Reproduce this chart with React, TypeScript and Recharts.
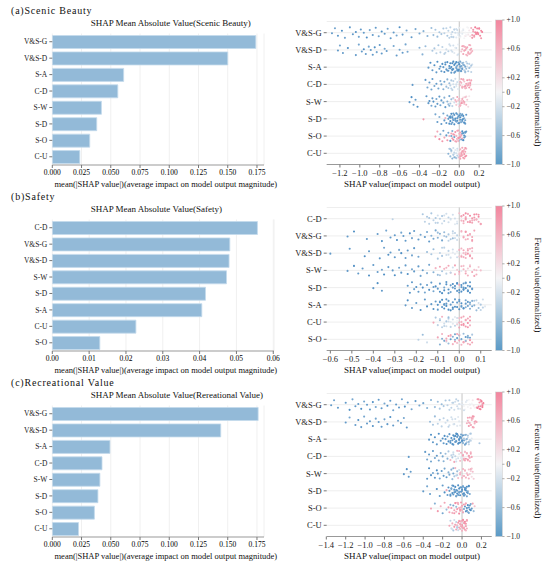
import React from "react";
import {
  BarChart,
  Bar,
  XAxis,
  YAxis,
  CartesianGrid,
  ScatterChart,
  Scatter,
  ReferenceLine,
} from "recharts";

const FONT = '"Liberation Serif", "Times New Roman", serif';

// feature order per panel (top to bottom)
const FEATURES_A = ["V&S-G", "V&S-D", "S-A", "C-D", "S-W", "S-D", "S-O", "C-U"];
const FEATURES_B = ["C-D", "V&S-G", "V&S-D", "S-W", "S-D", "S-A", "C-U", "S-O"];
const FEATURES_C = ["V&S-G", "V&S-D", "S-A", "C-D", "S-W", "S-D", "S-O", "C-U"];

// mean |SHAP|
const MEAN_A = [0.174, 0.15, 0.061, 0.056, 0.042, 0.038, 0.032, 0.0235];
const MEAN_B = [0.0557, 0.0482, 0.048, 0.0473, 0.0416, 0.0406, 0.0227, 0.0129];
const MEAN_C = [0.176, 0.144, 0.0493, 0.0425, 0.0407, 0.039, 0.036, 0.0224];

const MEAN_TICKS_AC = [0, 0.025, 0.05, 0.075, 0.1, 0.125, 0.15, 0.175];
const MEAN_TICKS_B = [0, 0.01, 0.02, 0.03, 0.04, 0.05, 0.06];

const SHAP_TICKS_A = [-1.2, -1.0, -0.8, -0.6, -0.4, -0.2, 0, 0.2];
const SHAP_TICKS_B = [-0.6, -0.5, -0.4, -0.3, -0.2, -0.1, 0, 0.1];
const SHAP_TICKS_C = [-1.4, -1.2, -1.0, -0.8, -0.6, -0.4, -0.2, 0, 0.2];

const CBAR_TICKS = [1, 0.6, 0.2, 0, -0.2, -0.6, -1];

// vertical spread inside a row, cycled over points
const JITTER = [
  0.03, -0.26, 0.18, -0.11, 0.3, -0.31, 0.09, -0.04, 0.24, -0.19, 0.0, 0.28, -0.15,
  0.13, -0.29, 0.21, -0.07, 0.06, -0.23, 0.32, -0.01, 0.16, -0.32, 0.11, -0.13, 0.26,
  -0.21, 0.05, -0.09, 0.19, -0.27, 0.14, -0.17, 0.23, -0.03, 0.08, -0.24,
];

// SHAP points per row: [shap*100, feature value*10]
const SHAP_A: number[][][] = [
  [
    [-128, -8], [-125, -7], [-122, -8], [-118, -9], [-115, -7], [-110, -8], [-107, -8], [-104, -9],
    [-101, -7], [-99, -8], [-96, -8], [-93, -9], [-90, -7], [-87, -8], [-84, -8], [-81, -7],
    [-78, -9], [-75, -8], [-72, -7], [-69, -8], [-66, -8], [-63, -7], [-60, -9], [-57, -8],
    [-53, -7], [-48, -8], [-44, -7], [-40, -7], [-36, -6], [-32, -6], [-28, -5], [-26, -5],
    [-24, -4], [-22, -5], [-20, -4], [-18, -4], [-16, -4], [-15, -3], [-13, -3], [-12, -4],
    [-11, -3], [-10, -3], [-9, -3], [-8, -2], [-7, -3], [-6, -2], [-5, -2], [-4, -2], [-3, -1],
    [-2, -2], [-1, -1], [0, -1], [1, -1], [2, 0], [3, -1], [4, 0], [5, 0], [6, 0], [7, 1],
    [8, 0], [9, 1], [10, 1], [-6, -3], [-3, -2], [0, -2], [3, 0], [6, 1], [12, 5], [13, 6],
    [14, 7], [15, 6], [16, 8], [17, 7], [18, 8], [19, 7], [20, 9], [21, 8], [22, 8], [13, 7],
    [16, 9], [19, 8], [23, 9], [-8, -3], [-5, -3], [-2, -1], [1, 0], [4, -1], [7, 0], [9, 0],
    [11, 2], [14, 6], [17, 8], [20, 8], [22, 7], [18, 9], [15, 7],
  ],
  [
    [-122, -8], [-120, -7], [-117, -8], [-112, -9], [-104, -8], [-101, -7], [-98, -8], [-96, -9],
    [-94, -8], [-91, -7], [-89, -8], [-87, -8], [-85, -9], [-83, -7], [-80, -8], [-78, -8],
    [-75, -7], [-73, -8], [-66, -7], [-63, -8], [-60, -7], [-57, -8], [-54, -7], [-52, -7],
    [-40, -6], [-37, -6], [-34, -5], [-27, -4], [-25, -4], [-23, -3], [-21, -4], [-19, -3],
    [-17, -3], [-15, -3], [-13, -2], [-11, -3], [-9, -2], [-8, -2], [-6, -2], [-5, -1], [-3, -2],
    [-2, -1], [-1, -1], [2, 4], [3, 5], [4, 6], [5, 5], [6, 6], [7, 5], [8, 6], [9, 5], [10, 6],
    [11, 5], [12, 6], [13, 5], [4, 5], [8, 5], [11, 6], [-14, -3], [-10, -2], [-7, -2], [-4, -1],
    [-1, -2], [3, 6], [5, 6], [7, 6], [9, 6], [11, 5], [12, 5], [6, 5], [10, 5],
  ],
  [
    [-31, -8], [-29, -9], [-27, -8], [-25, -9], [-23, -8], [-22, -9], [-20, -8], [-19, -9],
    [-18, -8], [-17, -9], [-16, -8], [-15, -9], [-14, -9], [-13, -8], [-12, -9], [-11, -8],
    [-10, -9], [-10, -8], [-9, -9], [-8, -8], [-8, -9], [-7, -8], [-6, -9], [-6, -8], [-5, -9],
    [-4, -8], [-4, -9], [-3, -8], [-2, -7], [-2, -9], [-1, -8], [0, -7], [0, -8], [1, -6],
    [1, -8], [2, -5], [3, -6], [3, -4], [4, -5], [5, -3], [5, -6], [6, -4], [7, -3], [7, -5],
    [8, -2], [9, -4], [10, -3], [11, -2], [12, -3], [13, -2], [-7, -9], [-3, -9], [-1, -9], [2, -7],
    [-9, -8], [-7, -9], [-5, -8], [-3, -7], [-1, -9], [1, -7], [3, -8], [4, -6], [6, -5], [8, -4],
    [10, -5], [12, -4], [-12, -8], [-14, -8], [-2, -8], [0, -9], [2, -8], [6, -7],
  ],
  [
    [-47, -8], [-34, -8], [-32, -7], [-30, -8], [-28, -7], [-27, -8], [-25, -7], [-23, -8],
    [-21, -7], [-19, -6], [-18, -7], [-16, -6], [-15, -7], [-13, -5], [-12, -6], [-11, -4],
    [-10, -5], [-9, -3], [-8, -4], [-7, -3], [-6, -2], [-5, -3], [-4, -2], [-3, -1], [-2, -2],
    [-1, -1], [0, -1], [1, 4], [2, 5], [3, 6], [4, 5], [5, 6], [5, 4], [6, 5], [7, 6], [8, 5],
    [8, 7], [9, 6], [10, 5], [10, 7], [11, 6], [12, 5], [2, 6], [6, 7], [11, 7], [-8, -3],
    [-6, -3], [-3, -2], [-1, -1], [1, 5], [3, 5], [4, 6], [7, 5], [9, 5], [11, 5], [12, 6],
  ],
  [
    [-50, -8], [-48, -9], [-46, -8], [-44, -8], [-42, -9], [-33, -8], [-31, -8], [-30, -9],
    [-28, -7], [-27, -8], [-26, -9], [-24, -8], [-23, -7], [-22, -8], [-20, -8], [-19, -7],
    [-18, -8], [-16, -7], [-15, -6], [-14, -8], [-12, -6], [-11, -5], [-10, -7], [-9, -4],
    [-8, -5], [-7, -3], [-6, 4], [-5, -2], [-4, 5], [-3, 3], [-2, 6], [-1, -1], [0, 5], [1, 6],
    [2, 4], [3, 5], [4, 2], [5, 6], [6, 4], [7, 5], [8, 3], [9, 2], [10, 1], [2, 7], [4, 6],
    [-10, -6], [-6, -3], [-3, 5], [0, 4], [3, 6], [5, 4], [7, 3], [1, 5], [-1, 4],
  ],
  [
    [-36, 7], [-24, -7], [-22, -8], [-20, -6], [-18, -8], [-16, -7], [-15, -8], [-14, 5],
    [-13, -8], [-12, -7], [-11, -8], [-10, -9], [-9, -8], [-9, -9], [-8, -9], [-7, -8], [-7, -9],
    [-6, -9], [-5, -8], [-5, -9], [-4, -9], [-3, -8], [-3, -9], [-2, -9], [-1, -8], [-1, -9],
    [0, -9], [1, -8], [1, -9], [2, -9], [3, -8], [3, -7], [4, -9], [5, -8], [5, -6], [6, -7],
    [7, -8], [-6, -7], [-2, -7], [2, -6], [-10, -8], [-8, -8], [-6, -8], [-4, -8], [-2, -8],
    [0, -8], [2, -8], [4, -8], [6, -8], [-7, -7], [-3, -7], [1, -7], [5, -9], [-9, -9], [3, -9],
  ],
  [
    [-24, 7], [-22, 6], [-20, 8], [-19, -6], [-17, 7], [-16, -7], [-15, 6], [-13, -8], [-12, 7],
    [-11, -7], [-10, 5], [-9, -8], [-8, 6], [-7, 7], [-7, -6], [-6, 8], [-5, 6], [-5, -7],
    [-4, 7], [-3, 6], [-3, 5], [-2, 7], [-1, 6], [-1, 8], [0, 5], [0, -5], [1, 6], [1, 7],
    [2, 5], [2, -8], [3, -9], [3, 6], [4, -8], [4, -7], [5, -9], [5, -8], [6, -9], [6, -7],
    [7, -8], [-2, 4], [-6, 7], [-4, 6], [-2, 6], [0, 7], [2, 6], [4, -9], [6, -8], [-8, -7],
    [-1, 5], [3, -8],
  ],
  [
    [-11, -6], [-10, -4], [-9, -5], [-8, -3], [-7, -6], [-6, -2], [-6, -4], [-5, -3], [-4, -5],
    [-4, -1], [-3, -2], [-3, -4], [-2, -1], [-2, -3], [-1, 0], [-1, -2], [0, 1], [0, 4], [1, 5],
    [1, 6], [2, 7], [2, 5], [3, 6], [3, 8], [4, 6], [4, 7], [5, 5], [5, 7], [6, 6], [6, 8],
    [7, 5], [7, 7], [-8, -5], [-5, -6], [1, 3], [3, 4], [-9, -4], [-5, -2], [-2, -2], [1, 6],
    [3, 7], [5, 6], [6, 7], [2, 6], [4, 5], [0, 5],
  ],
];

const SHAP_B: number[][][] = [
  [
    [-31, -3], [-17, -4], [-16, -3], [-15, -4], [-14, -3], [-13, -4], [-12, -3], [-11, -4],
    [-10, -3], [-10, -2], [-9, -3], [-8, -2], [-8, -4], [-7, -3], [-6, -2], [-5, -2], [-5, -3],
    [-4, -1], [-3, -2], [-2, -1], [-2, -2], [-1, -1], [0, 4], [1, 5], [1, 6], [2, 5], [2, 7],
    [3, 6], [3, 5], [4, 7], [4, 6], [5, 5], [5, 8], [6, 6], [6, 7], [7, 5], [7, 8], [8, 6],
    [8, 7], [9, 6], [9, 8], [10, 7], [3, 8], [6, 5], [-14, -4], [-11, -3], [-7, -2], [-4, -2],
    [-1, -2], [1, 6], [2, 6], [4, 5], [5, 7], [7, 7], [8, 5], [9, 7], [10, 6], [3, 7],
  ],
  [
    [-52, -8], [-49, -9], [-43, -8], [-38, -8], [-36, -9], [-34, -7], [-32, -8], [-30, -8],
    [-29, -9], [-27, -7], [-26, -8], [-25, -8], [-23, -9], [-22, -7], [-21, -8], [-19, -8],
    [-18, -7], [-16, -8], [-15, -7], [-14, -8], [-13, -6], [-12, -7], [-11, -7], [-10, -6],
    [-9, -6], [-8, -7], [-7, -5], [-6, -5], [-5, -4], [-4, -4], [-3, -3], [-3, -5], [-2, -3],
    [-1, -2], [-1, -3], [0, -1], [1, 4], [2, 5], [3, 6], [4, 5], [5, 6], [6, 5], [7, 6], [2, 6],
    [4, 7], [6, 7], [-10, -5], [-7, -4], [-5, -3], [-3, -2], [-2, -2], [1, 5], [3, 5], [5, 5],
    [6, 6], [3, 7],
  ],
  [
    [-60, -8], [-51, -8], [-44, -9], [-42, -8], [-37, -8], [-35, -7], [-33, -9], [-32, -8],
    [-30, -8], [-28, -7], [-27, -9], [-25, -8], [-24, -8], [-22, -7], [-21, -8], [-19, -7],
    [-15, -5], [-13, -4], [-12, -5], [-10, -4], [-9, -3], [-8, -4], [-7, -3], [-6, -2], [-5, -3],
    [-4, -2], [-3, -2], [-2, -1], [-1, -1], [0, 3], [1, 5], [1, 4], [2, 6], [2, 5], [3, 4],
    [3, 6], [4, 5], [4, 7], [5, 5], [5, 6], [6, 4], [6, 6], [-8, -3], [-5, -2], [-3, -1],
    [-1, -2], [0, 5], [2, 4], [3, 5], [4, 6], [5, 7], [6, 5], [1, 6],
  ],
  [
    [-52, -8], [-49, -9], [-47, -8], [-45, -8], [-42, -9], [-40, -8], [-38, -8], [-36, -7],
    [-35, -9], [-33, -8], [-31, -8], [-30, -9], [-28, -7], [-27, -8], [-25, -8], [-24, -9],
    [-22, -7], [-21, -8], [-19, -8], [-18, -7], [-17, -8], [-15, -6], [-14, -7], [-12, -6],
    [-11, 5], [-10, -5], [-9, 6], [-8, -4], [-7, 5], [-6, -3], [-5, 6], [-4, 4], [-3, -2],
    [-2, 5], [-1, 3], [0, 6], [1, 5], [1, -1], [2, 4], [3, 6], [4, 3], [4, 5], [5, 2], [6, 6],
    [7, 4], [8, 5], [9, 3], [10, 4], [-9, -4], [-6, 5], [-4, -3], [-2, 6], [0, 4], [2, 5],
    [3, 4], [5, 5], [7, 6], [8, 4],
  ],
  [
    [-40, -8], [-38, -9], [-36, -8], [-24, -8], [-23, -9], [-22, -8], [-21, -7], [-20, -9],
    [-19, -8], [-18, -8], [-17, -9], [-16, -7], [-15, -8], [-14, -9], [-13, -8], [-12, -7],
    [-11, -9], [-10, -8], [-9, -8], [-8, -9], [-7, -7], [-7, -9], [-6, -8], [-5, -9], [-4, -8],
    [-4, -7], [-3, -9], [-2, -8], [-2, -9], [-1, -8], [-1, -9], [0, -9], [0, 6], [1, -9],
    [1, -8], [2, -9], [2, -8], [3, -9], [3, -7], [4, -9], [4, -8], [5, -9], [5, -8], [6, -7],
    [-12, -8], [-9, -9], [-6, -9], [-3, -8], [0, -8], [1, -9], [2, -9], [3, -8], [4, -9],
    [5, -9], [6, -8], [-1, -9], [-5, -8], [2, -8], [4, -8],
  ],
  [
    [-25, -8], [-24, -9], [-22, -8], [-20, -8], [-18, -9], [-16, -8], [-15, -9], [-13, -8],
    [-12, -9], [-11, -8], [-10, -9], [-10, -8], [-9, -9], [-8, -8], [-8, -9], [-7, -9], [-6, -8],
    [-6, -9], [-5, -8], [-4, -9], [-4, -8], [-3, -9], [-2, -8], [-2, -9], [-1, -8], [0, -9],
    [0, -8], [1, -7], [1, -9], [2, -8], [3, -7], [3, -6], [4, -8], [5, -6], [5, -5], [6, -7],
    [7, -4], [7, -6], [8, -3], [9, -5], [9, -2], [10, -3], [11, -2], [12, -1], [-7, -8], [-3, -8],
    [-9, -8], [-7, -8], [-5, -9], [-3, -8], [-1, -9], [0, -8], [2, -9], [3, -8], [4, -7],
    [6, -6], [8, -5], [10, -4], [11, -3], [-6, -8], [1, -8], [5, -7],
  ],
  [
    [-12, 6], [-11, -4], [-10, -3], [-9, -5], [-8, -3], [-8, 5], [-7, -2], [-6, -4], [-6, -2],
    [-5, -3], [-4, -1], [-4, -3], [-3, -2], [-3, 0], [-2, -1], [-2, -3], [-1, 0], [-1, -1],
    [0, 4], [0, 6], [1, 5], [1, 7], [2, 6], [2, 8], [3, 5], [3, 7], [4, 6], [4, 8], [5, 7],
    [5, 5], [-5, -5], [-1, 3], [-9, -3], [-7, -3], [-5, -2], [-3, -1], [-1, -2], [0, 5], [1, 6],
    [2, 7], [3, 6], [4, 7], [5, 6],
  ],
  [
    [-19, -3], [-17, -5], [-15, -2], [-10, 6], [-9, -6], [-8, 5], [-7, -7], [-6, 6], [-5, -5],
    [-5, 7], [-4, -8], [-3, 5], [-3, -6], [-2, 7], [-2, -7], [-1, 4], [-1, -8], [0, 6], [0, -6],
    [1, 5], [1, -7], [2, 7], [2, -5], [3, 6], [3, -8], [4, 5], [4, -6], [5, 7], [5, -7], [6, 6],
    [6, -4], [-6, -2], [-4, 3], [0, 1], [-8, -6], [-6, 5], [-4, 6], [-2, -6], [0, 5], [2, 6],
    [4, -7], [5, 6], [-1, 6], [3, -5],
  ],
];

const SHAP_C: number[][][] = [
  [
    [-135, -8], [-132, -7], [-128, -8], [-120, -8], [-116, -9], [-113, -7], [-110, -8], [-107, -8],
    [-104, -9], [-101, -7], [-98, -8], [-95, -8], [-92, -9], [-89, -7], [-86, -8], [-83, -8],
    [-80, -7], [-77, -9], [-74, -8], [-71, -7], [-68, -8], [-65, -8], [-62, -7], [-59, -9],
    [-56, -8], [-52, -7], [-48, -8], [-44, -7], [-40, -7], [-36, -6], [-32, -6], [-28, -5],
    [-25, -5], [-23, -4], [-21, -5], [-19, -4], [-17, -4], [-15, -3], [-13, -4], [-11, -3],
    [-9, -3], [-8, -2], [-6, -3], [-5, -2], [-3, -2], [-2, -1], [0, -1], [1, -1], [3, 0], [4, -1],
    [6, 0], [7, 0], [9, 1], [10, 0], [12, 1], [-4, -3], [2, -2], [8, -1], [15, 6], [16, 7],
    [17, 8], [18, 7], [19, 9], [20, 8], [21, 8], [22, 9], [16, 9], [19, 7], [21, 9],
    [-7, -2], [-4, -2], [-1, -1], [2, 0], [5, -1], [8, 0], [11, 1], [13, 0], [-10, -3], [-13, -3],
    [17, 7], [19, 8], [21, 7], [18, 8], [20, 9],
  ],
  [
    [-120, -8], [-116, -7], [-110, -8], [-107, -9], [-104, -8], [-101, -7], [-98, -8], [-95, -8],
    [-92, -9], [-89, -7], [-86, -8], [-83, -8], [-80, -7], [-77, -8], [-74, -9], [-71, -8],
    [-66, -7], [-63, -8], [-60, -7], [-57, -8], [-33, -5], [-30, -4], [-28, -5], [-25, -3],
    [-23, -4], [-21, -3], [-19, -3], [-17, -2], [-15, -3], [-13, -2], [-11, -2], [-9, -1],
    [-7, -2], [-5, -1], [-3, -1], [5, 5], [6, 6], [7, 5], [8, 6], [9, 7], [10, 5], [11, 6],
    [12, 7], [13, 5], [14, 6], [7, 7], [11, 5], [15, 6], [-14, -3], [-10, -2], [-8, -2],
    [-4, -1], [-2, -1], [6, 5], [8, 5], [10, 6], [12, 6], [13, 6], [9, 5], [11, 7],
  ],
  [
    [-34, -8], [-32, -9], [-30, -8], [-28, -9], [-26, -8], [-24, -9], [-22, -8], [-20, -9],
    [-19, -8], [-18, -9], [-17, -8], [-16, -9], [-15, -8], [-14, -9], [-13, -8], [-12, -9],
    [-11, -9], [-10, -8], [-9, -9], [-9, -8], [-8, -9], [-7, -8], [-6, -9], [-6, -7], [-5, -8],
    [-4, -9], [-4, -7], [-3, -8], [-2, -6], [-2, -9], [-1, -7], [0, -8], [0, -5], [1, -6],
    [2, -4], [2, -7], [3, -5], [4, -3], [4, -6], [5, -4], [6, -2], [7, -3], [8, -2], [9, -3],
    [10, -1], [18, -4], [-7, -9], [-3, -9], [-10, -9], [-8, -8], [-6, -8], [-5, -9], [-3, -9],
    [-1, -8], [0, -9], [1, -8], [3, -7], [5, -6], [7, -5], [9, -4], [-12, -8], [-2, -8],
    [4, -7], [6, -4], [8, -3],
  ],
  [
    [-55, -8], [-38, -8], [-36, -7], [-34, -8], [-32, -7], [-30, -8], [-28, -7], [-26, -8],
    [-24, -7], [-22, -6], [-20, -7], [-19, -6], [-17, -5], [-15, -6], [-14, -4], [-12, 5],
    [-11, -3], [-10, -4], [-9, -2], [-8, 6], [-7, -3], [-6, -1], [-5, 5], [-4, -2], [-3, -1],
    [-2, 4], [-1, 5], [0, -1], [1, 5], [2, 6], [3, 5], [4, 7], [5, 6], [6, 5], [7, 7], [8, 6],
    [9, 5], [10, 6], [3, 4], [6, 7], [-9, -3], [-6, -2], [-3, 5], [-1, -1], [1, 6], [3, 6],
    [5, 5], [7, 6], [8, 5], [9, 6], [2, 5],
  ],
  [
    [-60, -8], [-57, -9], [-55, -8], [-53, -8], [-36, -8], [-34, -9], [-32, -8], [-30, -7],
    [-28, -8], [-26, -9], [-25, -8], [-23, -7], [-21, -8], [-19, -8], [-18, -7], [-16, -8],
    [-14, -6], [-13, -7], [-11, -6], [-10, -5], [-9, -7], [-8, -4], [-7, 5], [-6, -3], [-5, -5],
    [-4, 4], [-3, -2], [-2, 5], [-1, 3], [0, -1], [1, 5], [2, 6], [3, 4], [4, 5], [5, 2], [6, 6],
    [7, 4], [8, 3], [9, 5], [10, 2], [11, 4], [12, 3], [-9, -6], [-5, -3], [-2, 5], [0, 5],
    [3, 5], [5, 4], [7, 5], [9, 3], [1, 4], [10, 4],
  ],
  [
    [-40, -8], [-36, -7], [-33, -8], [-26, -9], [-23, -8], [-20, -8], [-18, -9], [-16, 6],
    [-15, -8], [-14, -9], [-13, -8], [-12, -9], [-11, -8], [-10, -9], [-9, -9], [-9, -8],
    [-8, -9], [-7, -8], [-7, -9], [-6, -9], [-5, -8], [-5, -9], [-4, -9], [-3, -8], [-3, -9],
    [-2, -9], [-1, -8], [-1, -9], [0, -9], [1, -8], [1, -9], [2, -9], [3, -8], [3, -7], [4, -9],
    [5, -8], [5, -9], [6, -7], [7, -8], [8, -7], [-11, -7], [-6, -7], [-10, -8], [-8, -8],
    [-6, -8], [-4, -8], [-2, -8], [0, -8], [2, -8], [4, -8], [6, -8], [7, -9], [-12, -8],
    [3, -9], [-3, -7], [1, -7], [5, -7],
  ],
  [
    [-32, 6], [-28, -6], [-25, 7], [-22, 5], [-20, -7], [-18, 6], [-16, -5], [-14, 7], [-13, 6],
    [-12, -6], [-11, 7], [-10, 5], [-9, -7], [-8, 6], [-7, 8], [-6, 5], [-6, -5], [-5, 7],
    [-4, 6], [-3, 8], [-3, 5], [-2, 6], [-1, 7], [0, 5], [0, 6], [1, -4], [2, 7], [2, -7],
    [3, -8], [4, -9], [4, 6], [5, -8], [6, -9], [6, -6], [7, -8], [8, -9], [9, -7], [10, -8],
    [11, 6], [12, -5], [13, 4], [-8, 7], [-5, 6], [-2, 7], [-1, 5], [1, 6], [3, 5], [5, -9],
    [7, -7], [8, -8], [9, -9], [-4, 5],
  ],
  [
    [-13, 6], [-12, -3], [-11, -2], [-10, 5], [-9, -4], [-8, -2], [-8, 7], [-7, -1], [-6, 6],
    [-6, -3], [-5, 5], [-4, -2], [-4, 7], [-3, 6], [-3, 0], [-2, 5], [-2, 7], [-1, 6], [-1, 8],
    [0, 5], [0, 7], [1, 6], [1, 8], [2, 5], [2, 7], [3, 6], [3, 8], [4, 6], [4, 7], [5, 5],
    [5, 7], [-5, -4], [-1, 3], [-10, -2], [-7, 6], [-5, -3], [-3, 7], [-1, 5], [1, 7], [2, 6],
    [3, 7], [4, 5], [5, 6], [0, 6],
  ],
];

const BLUE = [62, 132, 190];
const MID = [244, 244, 246];
const PINK = [241, 112, 140];

function featureColor(v: number) {
  const t = Math.max(-1, Math.min(1, v));
  const end = t < 0 ? BLUE : PINK;
  const a = Math.abs(t);
  const c = MID.map((m, i) => Math.round(m + (end[i] - m) * a));
  return `rgb(${c[0]},${c[1]},${c[2]})`;
}

const fmtSigned = (v: number) =>
  v === 0 ? "0" : v > 0 ? "+" + v.toFixed(1) : "\u2212" + Math.abs(v).toFixed(1);
const fmtShap = (v: number) => (v < 0 ? "\u2212" + Math.abs(v).toFixed(1) : v.toFixed(1));

type PanelProps = {
  top: number;
  label: string;
  title: string;
  names: string[];
  means: number[];
  meanMax: number;
  meanTicks: number[];
  meanDigits: number;
  barRight: number;
  shap: number[][][];
  shapDomain: [number, number];
  shapTicks: number[];
};

const txt = (
  x: number,
  y: number,
  s: string,
  size: number,
  extra: React.CSSProperties = {}
) => (
  <div
    style={{
      position: "absolute",
      left: x,
      top: y,
      transform: "translate(-50%, -50%)",
      fontFamily: FONT,
      fontSize: size,
      lineHeight: 1,
      whiteSpace: "nowrap",
      color: "#111",
      ...extra,
    }}
  >
    {s}
  </div>
);

function Panel(p: PanelProps) {
  const bars = p.names.map((name, i) => ({ name, value: p.means[i] }));
  const points: { x: number; y: number; fill: string }[] = [];
  p.shap.forEach((row, r) => {
    row.forEach(([s, v], k) => {
      points.push({ x: s / 100, y: r + JITTER[k % JITTER.length], fill: featureColor(v / 10) });
    });
  });

  const cbTop = 20;
  const cbH = 144.5;

  return (
    <div style={{ position: "absolute", left: 0, top: p.top, width: 550, height: 190 }}>
      <div
        style={{
          position: "absolute",
          left: 11,
          top: 6,
          fontFamily: FONT,
          fontSize: 10,
          letterSpacing: 0.8,
          lineHeight: 1,
          whiteSpace: "nowrap",
          color: "#111",
        }}
      >
        {p.label}
      </div>
      <div
        style={{
          position: "absolute",
          left: 90.7,
          top: 18.5,
          fontFamily: FONT,
          fontSize: 9,
          lineHeight: 1,
          whiteSpace: "nowrap",
          color: "#111",
        }}
      >
        {p.title}
      </div>

      <div style={{ position: "absolute", left: 0, top: 0 }}>
        <BarChart
          width={280}
          height={190}
          layout="vertical"
          data={bars}
          margin={{ top: 33.5, right: 280 - p.barRight, bottom: 0, left: 0 }}
          barSize={13}
        >
          <CartesianGrid horizontal={false} stroke="#f0f0f0" />
          <XAxis
            type="number"
            domain={[0, p.meanMax]}
            ticks={p.meanTicks}
            allowDataOverflow
            height={25}
            tickFormatter={(v: number) => v.toFixed(p.meanDigits)}
            tick={{ fontSize: 7.5, fill: "#000", fontFamily: FONT }}
            tickSize={3}
            tickLine={{ stroke: "#777" }}
            axisLine={{ stroke: "#999" }}
            interval={0}
          />
          <YAxis
            type="category"
            dataKey="name"
            width={52.3}
            axisLine={false}
            tickSize={3}
            tickLine={{ stroke: "#777" }}
            tick={{ fontSize: 7.5, fill: "#1a1a1a", fontFamily: FONT }}
            interval={0}
          />
          <Bar
            dataKey="value"
            fill="#93bad8"
            stroke="#c4dbec"
            strokeWidth={0.8}
            isAnimationActive={false}
          />
        </BarChart>
      </div>
      {txt(165.8, 184, "mean(|SHAP value|)(average impact on model output magnitude)", 8.5)}

      <div style={{ position: "absolute", left: 270, top: 0 }}>
        <ScatterChart
          width={280}
          height={190}
          margin={{ top: 21.5, right: 58.3, bottom: 0, left: 0 }}
        >
          <CartesianGrid vertical={false} stroke="#eeeeee" />
          <XAxis
            type="number"
            dataKey="x"
            domain={p.shapDomain}
            ticks={p.shapTicks}
            allowDataOverflow
            height={25.5}
            tickFormatter={fmtShap}
            tick={{ fontSize: 8.5, fill: "#1a1a1a", fontFamily: FONT }}
            tickSize={3}
            tickLine={{ stroke: "#777" }}
            axisLine={{ stroke: "#999" }}
            interval={0}
          />
          <YAxis
            type="number"
            dataKey="y"
            domain={[-0.65, 7.65]}
            reversed
            ticks={[0, 1, 2, 3, 4, 5, 6, 7]}
            tickFormatter={(i: number) => p.names[i] ?? ""}
            allowDataOverflow
            width={56.7}
            axisLine={false}
            tickSize={3}
            tickLine={{ stroke: "#777" }}
            tick={{ fontSize: 8.5, fill: "#1a1a1a", fontFamily: FONT }}
            interval={0}
          />
          <ReferenceLine x={0} stroke="#b5b5b5" strokeWidth={0.8} />
          <Scatter
            data={points}
            isAnimationActive={false}
            shape={(sp: any) => (
              <circle cx={sp.cx} cy={sp.cy} r={1.05} fill={sp.payload.fill} />
            )}
          />
        </ScatterChart>
      </div>
      {txt(412, 184, "SHAP value(impact on model output)", 9)}

      <svg
        style={{ position: "absolute", left: 490, top: 0 }}
        width={40}
        height={190}
      >
        <defs>
          <linearGradient id={`cb${p.top}`} x1="0" y1="0" x2="0" y2="1">
            <stop offset="0%" stopColor="#f2869e" />
            <stop offset="50%" stopColor="#f4f4f6" />
            <stop offset="100%" stopColor="#5b9ac6" />
          </linearGradient>
        </defs>
        <rect
          x={5.7}
          y={cbTop}
          width={6.6}
          height={cbH}
          fill={`url(#cb${p.top})`}
          stroke="#c8c8c8"
          strokeWidth={0.5}
        />
        {CBAR_TICKS.map((v) => {
          const y = cbTop + ((1 - v) / 2) * cbH;
          return (
            <g key={v}>
              <line x1={12.3} x2={14.5} y1={y} y2={y} stroke="#777" strokeWidth={0.6} />
              <text
                x={16.5}
                y={y}
                dy="0.32em"
                fontSize={7.5}
                fontFamily={FONT}
                fill="#222"
              >
                {fmtSigned(v)}
              </text>
            </g>
          );
        })}
      </svg>
      {txt(536.7, 99, "Feature value(normalized)", 9, {
        transform: "translate(-50%, -50%) rotate(90deg)",
      })}
    </div>
  );
}

export default function App() {
  return (
    <div
      style={{
        position: "absolute",
        left: 0,
        top: 0,
        width: 550,
        height: 573,
        background: "#fff",
        overflow: "hidden",
      }}
    >
      <Panel
        top={0}
        label="(a)Scenic Beauty"
        title="SHAP Mean Absolute Value(Scenic Beauty)"
        names={FEATURES_A}
        means={MEAN_A}
        meanMax={0.181}
        meanTicks={MEAN_TICKS_AC}
        meanDigits={3}
        barRight={264}
        shap={SHAP_A}
        shapDomain={[-1.333, 0.326]}
        shapTicks={SHAP_TICKS_A}
      />
      <Panel
        top={186}
        label="(b)Safety"
        title="SHAP Mean Absolute Value(Safety)"
        names={FEATURES_B}
        means={MEAN_B}
        meanMax={0.0602}
        meanTicks={MEAN_TICKS_B}
        meanDigits={2}
        barRight={274}
        shap={SHAP_B}
        shapDomain={[-0.617, 0.151]}
        shapTicks={SHAP_TICKS_B}
      />
      <Panel
        top={372}
        label="(c)Recreational Value"
        title="SHAP Mean Absolute Value(Rereational Value)"
        names={FEATURES_C}
        means={MEAN_C}
        meanMax={0.181}
        meanTicks={MEAN_TICKS_AC}
        meanDigits={3}
        barRight={264}
        shap={SHAP_C}
        shapDomain={[-1.396, 0.306]}
        shapTicks={SHAP_TICKS_C}
      />
    </div>
  );
}
